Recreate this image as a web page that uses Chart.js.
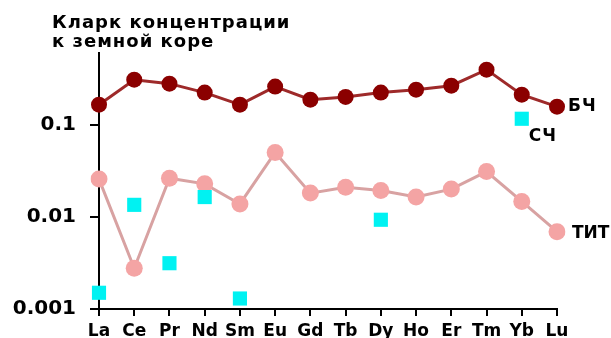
<!DOCTYPE html>
<html>
<head>
<meta charset="utf-8">
<script src="https://cdn.jsdelivr.net/npm/chart.js@4"></script>
<style>
  html, body { margin: 0; padding: 0; background: #fff; }
  #wrap { width: 611px; height: 338px; position: relative; }
</style>
</head>
<body>
<div id="wrap"><canvas id="c" width="611" height="338"></canvas></div>
<script>
// Rare earth elements along the x axis
const elements = ['La', 'Ce', 'Pr', 'Nd', 'Sm', 'Eu', 'Gd', 'Tb', 'Dy', 'Ho', 'Er', 'Tm', 'Yb', 'Lu'];

// Clarke concentration ratios relative to the Earth's crust
const bch = [0.165, 0.308, 0.279, 0.223, 0.165, 0.259, 0.187, 0.200, 0.223, 0.240, 0.265, 0.396, 0.212, 0.157];
const sch = [0.0015, 0.0135, 0.00314, 0.0164, 0.0013, null, null, null, 0.0093, null, null, null, 0.116, null];
const tit = [0.0257, 0.00277, 0.0263, 0.0228, 0.0138, 0.050, 0.0181, 0.021, 0.0193, 0.0164, 0.020, 0.031, 0.0147, 0.0069];

// Series names written next to their marks
const seriesNames = ['БЧ', 'СЧ', 'ТИТ'];

// Axis settings
const yTicks = [0.001, 0.01, 0.1];
const yMin = 0.001;
const yMax = 0.6;
const titleLines = ['Кларк концентрации', 'к земной коре'];

const BOLD = '"DejaVu Sans", sans-serif';

// Draws the two-line heading and the series names beside the plotted marks
const annotate = {
  id: 'annotate',
  afterDatasetsDraw(chart) {
    const ctx = chart.ctx;
    ctx.save();
    ctx.fillStyle = '#000';
    ctx.textBaseline = 'alphabetic';
    ctx.textAlign = 'left';
    ctx.font = 'bold 18px ' + BOLD;
    ctx.letterSpacing = '1px';
    ctx.fillText(titleLines[0], 52, 28);
    ctx.fillText(titleLines[1], 52, 47);

    ctx.font = 'bold 17px ' + BOLD;
    ctx.letterSpacing = '1px';
    ctx.textBaseline = 'middle';
    const lastB = chart.getDatasetMeta(0).data[elements.length - 1];
    ctx.fillText(seriesNames[0], lastB.x + 11, lastB.y);
    const ybS = chart.getDatasetMeta(1).data[elements.indexOf('Yb')];
    ctx.fillText(seriesNames[1], ybS.x + 7, ybS.y + 18);
    const lastT = chart.getDatasetMeta(2).data[elements.length - 1];
    ctx.letterSpacing = '0px';
    ctx.fillText(seriesNames[2], lastT.x + 15, lastT.y + 2);
    ctx.restore();
  }
};

new Chart(document.getElementById('c'), {
  type: 'line',
  data: {
    labels: elements,
    datasets: [
      {
        label: seriesNames[0],
        data: bch,
        borderColor: '#9e2a2a',
        borderWidth: 3,
        backgroundColor: '#8b0000',
        pointBackgroundColor: '#8b0000',
        pointBorderWidth: 0,
        pointRadius: 8,
        tension: 0
      },
      {
        label: seriesNames[1],
        data: sch,
        showLine: false,
        pointStyle: 'rect',
        pointRadius: 10,
        pointBackgroundColor: '#00f2f2',
        pointBorderWidth: 0,
        borderColor: '#00f2f2'
      },
      {
        label: seriesNames[2],
        data: tit,
        borderColor: '#d8a2a2',
        borderWidth: 3,
        pointBackgroundColor: '#f4a4a4',
        pointBorderWidth: 0,
        pointRadius: 8.5,
        tension: 0
      }
    ]
  },
  options: {
    responsive: false,
    animation: false,
    devicePixelRatio: 1,
    layout: { padding: { left: 0, right: 54, top: 53, bottom: 0 } },
    plugins: {
      legend: { display: false },
      title: { display: false },
      tooltip: { enabled: false }
    },
    scales: {
      x: {
        offset: false,
        grid: { drawOnChartArea: false, drawTicks: true, tickLength: 7, color: '#000', lineWidth: 2 },
        border: { display: true, color: '#000', width: 2 },
        ticks: {
          color: '#000',
          padding: 5,
          autoSkip: false,
          maxRotation: 0,
          font: { family: BOLD, weight: 'bold', size: 17 }
        },
        afterFit(s) { s.height = 29; }
      },
      y: {
        type: 'logarithmic',
        min: yMin,
        max: yMax,
        grid: { drawOnChartArea: false, drawTicks: true, tickLength: 9, color: '#000', lineWidth: 2 },
        border: { display: true, color: '#000', width: 2 },
        afterBuildTicks(s) { s.ticks = yTicks.map(v => ({ value: v })); },
        ticks: {
          color: '#000',
          padding: 14,
          font: { family: BOLD, weight: 'bold', size: 20 },
          callback: (v) => String(v)
        },
        afterFit(s) { s.width = 99; }
      }
    }
  },
  plugins: [annotate]
});
</script>
</body>
</html>
